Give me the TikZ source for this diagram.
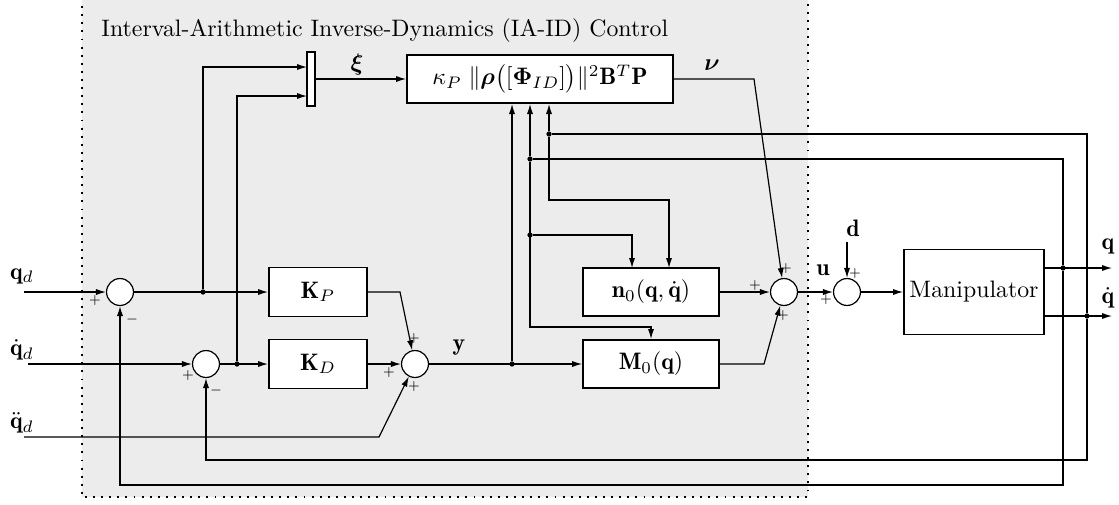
\documentclass[tikz,border=0pt]{standalone}
\usepackage{amsmath}
\usepackage{bm}
\usepackage{fontspec}
\usetikzlibrary{arrows.meta,calc}
\begin{document}
\begin{tikzpicture}[x=0.42pt,y=-0.42pt,
  conn/.style={line width=0.5pt},
  arr/.style={line width=0.5pt,-{Latex[length=4.2pt,width=2.6pt]}},
  blk/.style={draw,line width=0.8pt,fill=white,rectangle,inner sep=0pt},
  sumnode/.style={draw,circle,line width=0.5pt,fill=white,minimum size=11.3pt,inner sep=0pt},
  jdot/.style={circle,fill,inner sep=0pt,minimum size=2.2pt},
  sgn/.style={font=\tiny,inner sep=0pt},
  lbl/.style={inner sep=0pt}]
\clip (0,0) rectangle (1119,504);
\useasboundingbox (0,0) rectangle (1119,504);
\draw[line width=0.8pt,dash pattern=on 0.8pt off 2.6pt,fill=gray!15] (82,-10) rectangle (808,497);
\node[anchor=base west,inner sep=0pt] (title) at (101,36) {Interval-Arithmetic Inverse-Dynamics (IA-ID) Control};
% blocks
\node[blk,minimum width=111.7pt,minimum height=20.2pt] (iaid) at (540,79) {$\kappa_P\;\|\boldsymbol{\rho}\big([\boldsymbol{\Phi}_{ID}]\big)\|^2\mathbf{B}^T\mathbf{P}$};
\node[draw,line width=0.5pt,fill=white,minimum width=3.4pt,minimum height=22.7pt,inner sep=0pt] (mux) at (311,79) {};
\node[blk,minimum width=41.2pt,minimum height=20.6pt] (kp) at (318,292) {$\mathbf{K}_P$};
\node[blk,minimum width=41.2pt,minimum height=20.6pt] (kd) at (318,364) {$\mathbf{K}_D$};
\node[blk,minimum width=57.1pt,minimum height=20.2pt] (n0) at (651,292) {$\mathbf{n}_0(\mathbf{q},\dot{\mathbf{q}})$};
\node[blk,minimum width=57.1pt,minimum height=20.2pt] (m0) at (651,364) {$\mathbf{M}_0(\mathbf{q})$};
\node[blk,minimum width=58.8pt,minimum height=35.7pt] (man) at (974,292) {Manipulator};
% sums
\node[sumnode] (s1) at (120,292) {};
\node[sumnode] (s2) at (206,364) {};
\node[sumnode] (s3) at (415,364) {};
\node[sumnode] (s4) at (784,292) {};
\node[sumnode] (s5) at (847,292) {};
% coordinates
\coordinate (qdin) at (24,292);
\coordinate (dqdin) at (28,364);
\coordinate (ddqdin) at (24,437);
\coordinate (ddqdk) at (379,437);
\coordinate (mi1) at (307,67);
\coordinate (mi2) at (307,96);
\coordinate (kpb) at (400,292);
\coordinate (m0b) at (764,364);
\coordinate (nub) at (754,79);
\coordinate (d0) at (847,242);
\coordinate (qout) at (1112,268);
\coordinate (dqout) at (1112,316);
\coordinate (c1) at (120,485);
\coordinate (c2) at (206,460);
\coordinate (c3) at (549,200);
\coordinate (c4) at (651,327);
\coordinate (n0i1) at (632,268);
\coordinate (n0i2) at (669,268);
% junction dots
\node[jdot] (j1) at (203,292) {};
\node[jdot] (j2) at (237,364) {};
\node[jdot] (j3) at (512,364) {};
\node[jdot] (jq) at (1063,268) {};
\node[jdot] (jdq) at (1087,316) {};
\node[jdot] (jq2) at (530,159) {};
\node[jdot] (jdq2) at (549,134) {};
\node[jdot] (jq3) at (530,235) {};
% connectors
\draw[arr] (qdin) -- (s1);
\draw[arr] (s1) -- (kp);
\draw[arr] (j1) |- (mi1);
\draw[arr] (dqdin) -- (s2);
\draw[arr] (s2) -- (kd);
\draw[arr] (j2) |- (mi2);
\draw[arr] (mux) -- (iaid);
\draw[arr] (kp.east) -- (kpb) -- (s3);
\draw[arr] (kd) -- (s3);
\draw[arr] (ddqdin) -- (ddqdk) -- (s3);
\draw[arr] (s3) -- (m0);
\draw[arr] (j3) -- (j3 |- iaid.south);
\draw[arr] (iaid.east) -- (nub) -- (s4);
\draw[arr] (n0) -- (s4);
\draw[arr] (m0.east) -- (m0b) -- (s4);
\draw[arr] (s4) -- (s5);
\draw[arr] (d0) -- (s5);
\draw[arr] (s5) -- (man);
\draw[arr] (man.east |- qout) -- (qout);
\draw[arr] (man.east |- dqout) -- (dqout);
\draw[arr] (jq) |- (c1) -- (s1);
\draw[arr] (jdq) |- (c2) -- (s2);
\draw[conn] (jq) |- (jq2);
\draw[conn] (jdq) |- (jdq2);
\draw[arr] (jq2) -- (jq2 |- iaid.south);
\draw[arr] (jdq2) -- (jdq2 |- iaid.south);
\draw[arr] (jdq2) -- (c3) -| (n0i2);
\draw[arr] (jq2) |- (c4) -- (m0);
\draw[arr] (jq3) -| (n0i1);
% labels
\node[lbl] (lqd) at (22,276) {$\mathbf{q}_d$};
\node[lbl] (ldqd) at (22,350) {$\dot{\mathbf{q}}_d$};
\node[lbl] (lddqd) at (22,423) {$\ddot{\mathbf{q}}_d$};
\node[lbl] (lxi) at (357,65) {$\boldsymbol{\xi}$};
\node[lbl] (lnu) at (712,65) {$\boldsymbol{\nu}$};
\node[lbl] (ly) at (459,348) {$\mathbf{y}$};
\node[lbl] (lu) at (823,270) {$\mathbf{u}$};
\node[lbl] (ld) at (853,228) {$\mathbf{d}$};
\node[lbl] (lq) at (1108,246) {$\mathbf{q}$};
\node[lbl] (ldq) at (1108,298) {$\dot{\mathbf{q}}$};
% signs
\node[sgn] at (95,301) {$+$};
\node[sgn] at (132,320) {$-$};
\node[sgn] at (188,376) {$+$};
\node[sgn] at (216,391) {$-$};
\node[sgn] at (414,339) {$+$};
\node[sgn] at (389,373) {$+$};
\node[sgn] at (414,387) {$+$};
\node[sgn] at (755,286) {$+$};
\node[sgn] at (786,269) {$+$};
\node[sgn] at (783,316) {$+$};
\node[sgn] at (826,300) {$+$};
\node[sgn] at (855,274) {$+$};
\end{tikzpicture}
\end{document}
